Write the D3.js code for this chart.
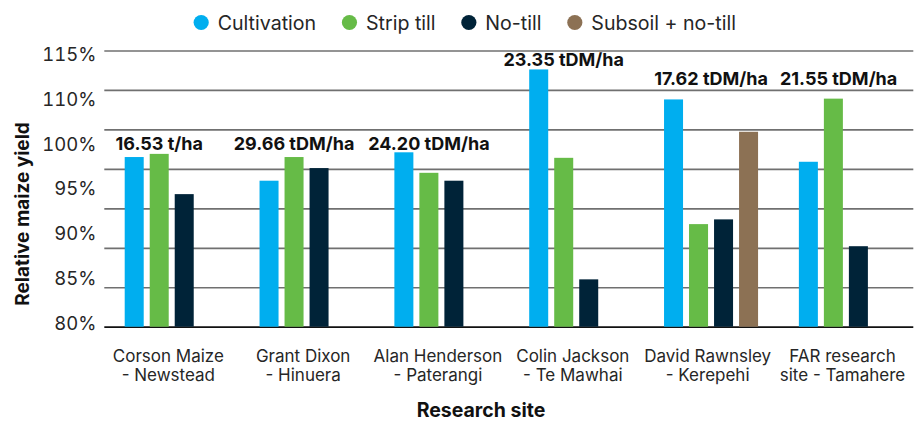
<!DOCTYPE html>
<html><head><meta charset="utf-8">
<script src="https://cdn.jsdelivr.net/npm/d3@7"></script>
<style>
body{margin:0;background:#fff}
svg{display:block}
text{font-family:Inter, Roboto, "Noto Sans", sans-serif}
</style>
</head><body><svg id="chart" width="922" height="421"></svg>
<script>
// ---- data ----
const sites = ["Corson Maize\n- Newstead","Grant Dixon\n- Hinuera","Alan Henderson\n- Paterangi","Colin Jackson\n- Te Mawhai","David Rawnsley\n- Kerepehi","FAR research\nsite - Tamahere"];
const seriesNames = ["Cultivation","Strip till","No-till","Subsoil + no-till"];
const cultivation   = [101.5, 98.5, 102.1, 112.6, 108.8, 100.9];
const stripTill     = [101.9, 101.5, 99.5, 101.4, 93.0, 108.9];
const noTill        = [96.8, 100.1, 98.5, 86.0, 93.6, 90.2];
const subsoilNoTill = [null, null, null, null, 104.7, null];
const yieldLabels = ["16.53 t/ha","29.66 tDM/ha","24.20 tDM/ha","23.35 tDM/ha","17.62 tDM/ha","21.55 tDM/ha"];
const yieldLabelLevel = [102.4, 102.4, 102.4, 113.0, 110.6, 110.6];
const gridTicks = [80,85,90,95,100,105,110,115];
const tickLabels = ["80%","85%","90%","95%","100%","110%","115%"];
const colors = ["#00AEEF","#66BB47","#002338","#8C7154"];

const values = [cultivation, stripTill, noTill, subsoilNoTill];

// ---- layout ----
const W = 922, H = 421;
const plotL = 104.3, plotR = 913.3, plotT = 50.5, plotB = 326.7;
const svg = d3.select("#chart");

const x0 = d3.scaleBand().domain(sites).range([plotL, plotR]).padding(0);
const x1 = d3.scaleBand().domain(seriesNames).range([0, x0.bandwidth()]).paddingInner(0.24).paddingOuter(0.816);
const y = d3.scaleLinear().domain([80,115]).range([plotB, plotT]);
const yLab = d3.scalePoint().domain(tickLabels).range([plotB - 3.4, plotT + 3.8]);

// gridlines
const grid = svg.append("g").attr("transform", `translate(${plotL},0)`)
  .call(d3.axisLeft(y).tickValues(gridTicks).tickSize(-(plotR - plotL)).tickFormat(""));
grid.select(".domain").remove();
grid.selectAll(".tick line").attr("stroke", d => d === 80 ? "#111" : "#707070").attr("stroke-width", 1.7);

// tick labels
svg.append("g").selectAll("text").data(tickLabels).join("text")
  .attr("x", 96.5).attr("y", d => yLab(d)).attr("dy", "0.36em")
  .attr("text-anchor", "end").attr("font-size", 18.5).attr("fill", "#262626")
  .style("font-feature-settings", "'tnum'")
  .text(d => d);

// bars
const barData = [];
sites.forEach((s, i) => seriesNames.forEach((n, j) => {
  const v = values[j][i];
  if (v != null) barData.push({site: s, series: n, v, c: colors[j]});
}));
svg.append("g").selectAll("rect").data(barData).join("rect")
  .attr("x", d => x0(d.site) + x1(d.series))
  .attr("y", d => y(d.v))
  .attr("width", x1.bandwidth())
  .attr("height", d => y(80) - y(d.v))
  .attr("fill", d => d.c);

// yield annotations (centred over each site's bars, kept apart from the previous one)
let prevRight = -Infinity;
sites.forEach((s, i) => {
  const present = seriesNames.filter((n, j) => values[j][i] != null);
  const xa = x0(s) + x1(present[0]);
  const xb = x0(s) + x1(present[present.length - 1]) + x1.bandwidth();
  const t = svg.append("text").attr("y", y(yieldLabelLevel[i]))
    .attr("text-anchor", "start").attr("font-size", 18).attr("font-weight", 700)
    .attr("fill", "#111").text(yieldLabels[i]);
  const w = t.node().getComputedTextLength();
  let left = (xa + xb) / 2 - w / 2;
  if (left < prevRight + 12) left = prevRight + 12;
  t.attr("x", left);
  prevRight = left + w;
});

// x category labels
const xl = svg.append("g").selectAll("text").data(sites).join("text")
  .attr("text-anchor", "middle").attr("font-size", 17).attr("fill", "#262626");
xl.each(function(d) {
  const t = d3.select(this);
  const cx = x0(d) + x0.bandwidth() / 2 - 3.4;
  d.split("\n").forEach((line, k) => {
    t.append("tspan").attr("x", cx).attr("y", 361.7 + k * 19.2).text(line);
  });
});

// axis titles
svg.append("text").attr("x", 481).attr("y", 416.5).attr("text-anchor", "middle")
  .attr("font-size", 19.5).attr("font-weight", 700).attr("fill", "#111").text("Research site");
svg.append("text").attr("transform", "translate(29,214) rotate(-90)").attr("text-anchor", "middle")
  .attr("font-size", 19).attr("font-weight", 700).attr("fill", "#111").text("Relative maize yield");

// legend
const lg = svg.append("g");
let cx = 0;
seriesNames.forEach((n, j) => {
  const g = lg.append("g");
  g.append("circle").attr("cx", 0).attr("cy", 0).attr("r", 7.6).attr("fill", colors[j]);
  const t = g.append("text").attr("x", 16.5).attr("y", 0).attr("dy", "0.36em")
    .attr("font-size", 19.6).attr("fill", "#262626").text(n);
  const w = t.node().getComputedTextLength();
  g.attr("transform", `translate(${cx},22.5)`);
  cx += 16.5 + w + 25.7 + 7.6;
});
const totalW = cx - 25.7 - 7.6;
lg.attr("transform", `translate(${W / 2 - totalW / 2 + 7.6},0)`);
</script>
</body></html>
